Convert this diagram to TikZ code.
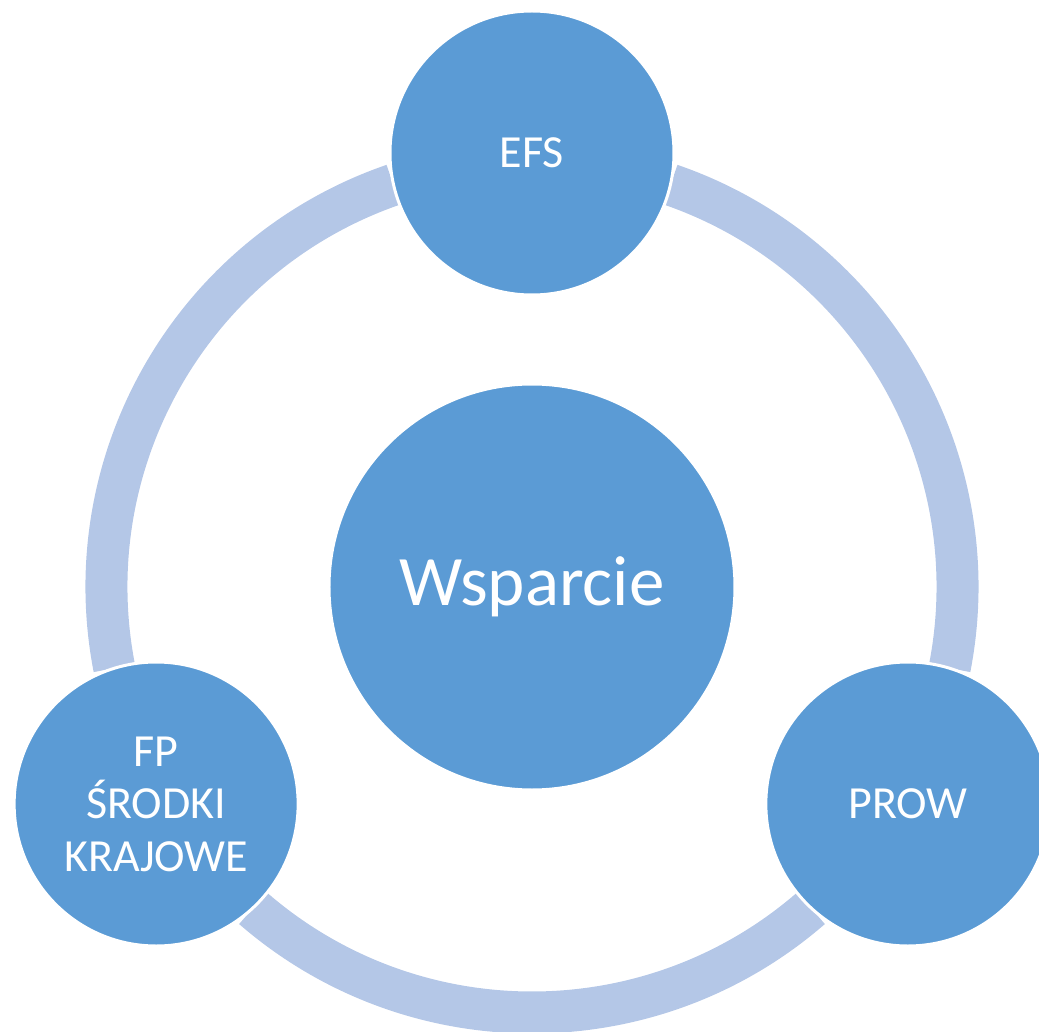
\documentclass[tikz,border=0pt]{standalone}
\usepackage{fontspec}
\setmainfont{Carlito}
\usepackage{tikz}
\usetikzlibrary{positioning}
\definecolor{fundblue}{HTML}{5B9BD5}
\definecolor{ringblue}{HTML}{B4C7E7}
\tikzset{
    fund/.style={circle, fill=fundblue, draw=white, line width=3pt, inner sep=0pt,
        minimum size=284pt, text=white, align=center,
        font=\fontsize{46}{52.5}\selectfont},
    core/.style={circle, fill=fundblue, draw=white, line width=3pt, inner sep=0pt,
        minimum size=406pt, text=white,
        font=\fontsize{71}{85}\selectfont},
    ringarc/.style={draw=ringblue, line width=42pt, line cap=butt},
}
\begin{document}
\begin{tikzpicture}[x=1pt, y=1pt]
	\useasboundingbox (-532,-444) rectangle (507,587);
	\foreach \a in {109,229,349}
		\draw[ringarc] (\a:425.5) arc[start angle=\a, delta angle=82, radius=425.5pt];
	\node[core] (wsparcie) at (0,0) {Wsparcie};
	\node[fund] (efs) at (90:434) {EFS};
	\node[fund] (fp) at (210:434) {FP\\ŚRODKI\\KRAJOWE};
	\node[fund] (prow) at (330:434) {PROW};
\end{tikzpicture}
\end{document}
